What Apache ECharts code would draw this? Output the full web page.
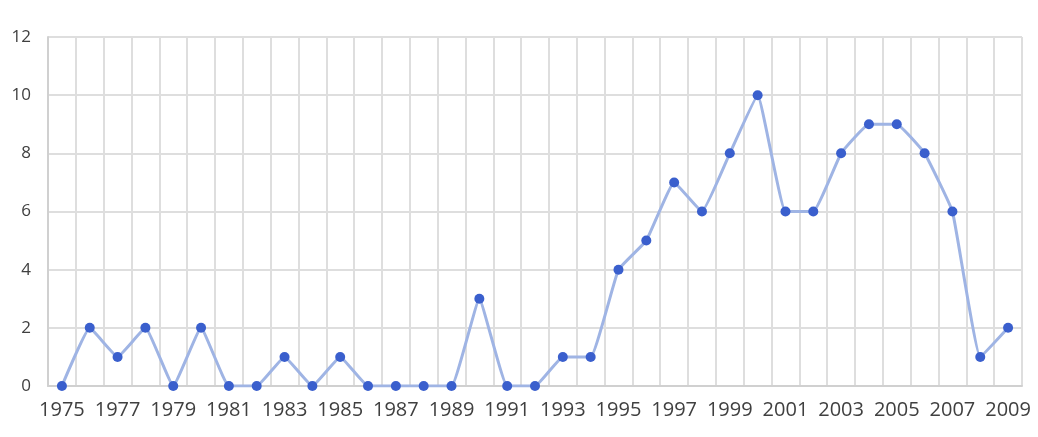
<!DOCTYPE html>
<html style="height: 100%">
  <head>
    <meta charset="utf-8" />
  </head>
  <body style="height: 100%; margin: 0; background: #fff">
    <div id="main" style="width: 1038px; height: 437px"></div>
    <script type="text/javascript" src="https://cdn.jsdelivr.net/npm/echarts@6/dist/echarts.min.js"></script>
    <script type="text/javascript">
      // years
      let years = [];
      for (let y = 1975; y <= 2009; y++) years.push(String(y));
      // counts per year
      let counts = [
        0, 2, 1, 2, 0, 2, 0, 0, 1, 0,
        1, 0, 0, 0, 0, 3, 0, 0, 1, 1,
        4, 5, 7, 6, 8, 10, 6, 6, 8, 9,
        9, 8, 6, 1, 2
      ];
      let yTicks = [0, 2, 4, 6, 8, 10, 12];

      var myChart = echarts.init(document.getElementById("main"));

      var option = {
        animation: false,
        grid: {
          left: 48,
          right: 16,
          top: 37,
          bottom: 51,
        },
        xAxis: {
          type: "category",
          data: years,
          boundaryGap: true,
          axisLine: { lineStyle: { color: "#d0d0d0", width: 2 } },
          axisTick: { show: false },
          splitLine: {
            show: true,
            interval: 0,
            lineStyle: { color: "#dedede", width: 2 },
          },
          axisLabel: {
            interval: 1,
            color: "#404040",
            fontSize: 20,
            fontFamily: "Open Sans",
            margin: 14,
          },
        },
        yAxis: {
          type: "value",
          min: yTicks[0],
          max: yTicks[yTicks.length - 1],
          interval: 2,
          axisLine: { show: true, lineStyle: { color: "#d0d0d0", width: 2 } },
          axisTick: { show: false },
          splitLine: { lineStyle: { color: "#dedede", width: 2 } },
          axisLabel: {
            color: "#404040",
            fontSize: 17,
            fontFamily: "Open Sans",
            margin: 17,
          },
        },
        series: [
          {
            type: "line",
            data: counts,
            smooth: 0.1,
            symbol: "circle",
            symbolSize: 10,
            lineStyle: { color: "#9fb4e4", width: 3 },
            itemStyle: { color: "#3a5fcd" },
          },
        ],
      };

      myChart.setOption(option);
    </script>
  </body>
</html>
